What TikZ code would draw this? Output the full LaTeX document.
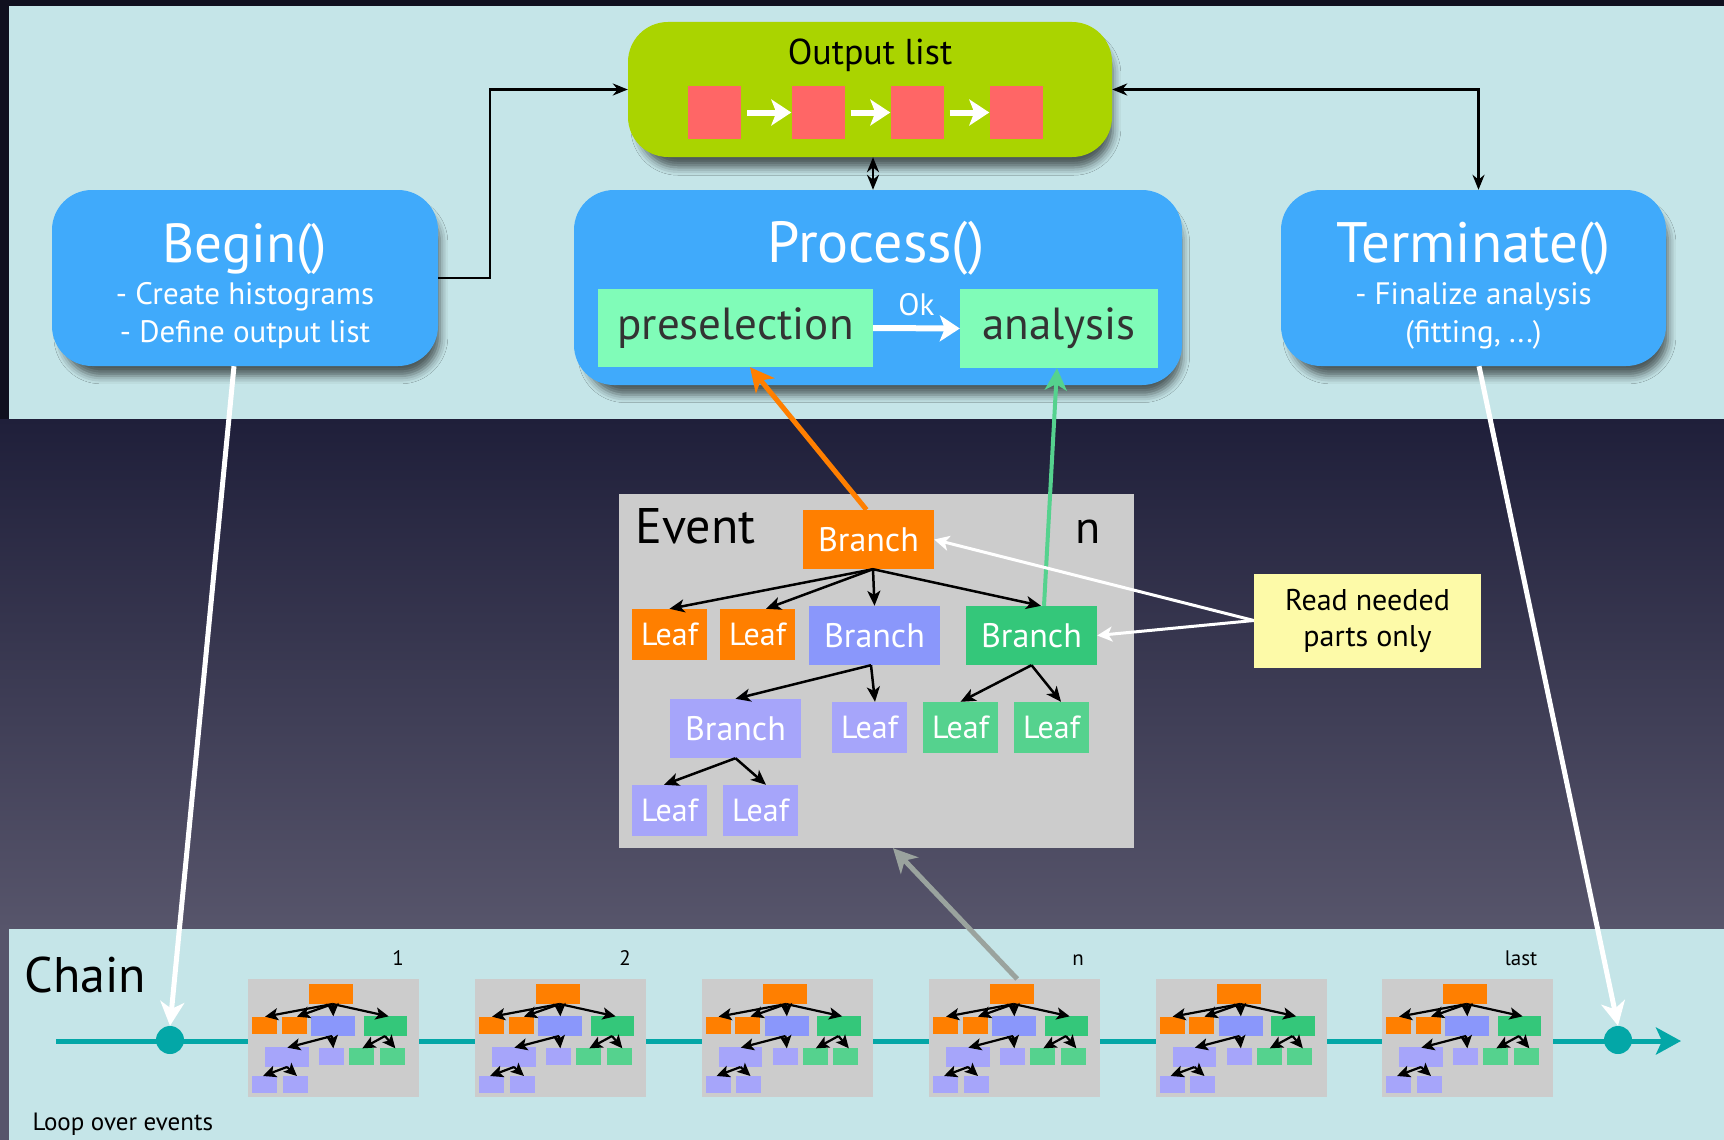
\documentclass[tikz,border=0pt]{standalone}
\usepackage{fontspec}
\setmainfont{PT Sans}
\usetikzlibrary{arrows.meta,shadows.blur}
\newcommand\fsz[1]{\fontsize{#1}{#1}\selectfont}

\definecolor{panel}{HTML}{C5E5E8}
\definecolor{bgdeep}{HTML}{10101F}
\definecolor{bgtop}{HTML}{1F1F3A}
\definecolor{bgbot}{HTML}{57556B}
\definecolor{boxblue}{HTML}{40AAFB}
\definecolor{listgreen}{HTML}{AAD400}
\definecolor{itemred}{HTML}{FF6666}
\definecolor{mint}{HTML}{80FCB8}
\definecolor{evgray}{HTML}{CCCCCC}
\definecolor{brorange}{HTML}{FF7F00}
\definecolor{brblue}{HTML}{8A97FB}
\definecolor{brpurple}{HTML}{A6A5FA}
\definecolor{brgreen}{HTML}{34C77A}
\definecolor{lfgreen}{HTML}{55D28E}
\definecolor{notefill}{HTML}{FDFAA8}
\definecolor{chainteal}{HTML}{03A7A7}
\definecolor{linkgray}{HTML}{9AA39E}

\begin{document}
\begin{tikzpicture}[x=1pt,y=-1pt,
  boxshadow/.style={blur shadow={shadow xshift=6pt, shadow yshift=-12pt, shadow blur radius=8pt, shadow opacity=60, shadow scale=0.98}},
  func/.style={rectangle, rounded corners=40pt, fill=boxblue, inner sep=0pt, boxshadow},
  ftitle/.style={anchor=base, text=white, font=\fsz{55}},
  fline/.style={anchor=base, text=white, font=\fsz{31}},
  stage/.style={rectangle, fill=mint, inner sep=0pt, text=black!80, font=\fsz{45}},
  item/.style={rectangle, fill=itemred, minimum size=53pt, inner sep=0pt},
  link/.style={line width=2.5pt, -{Stealth[length=15pt,width=12pt]}},
  dlink/.style={line width=2.5pt, {Stealth[length=15pt,width=12pt]}-{Stealth[length=15pt,width=12pt]}},
  itemarrow/.style={white, line width=6pt, -{Stealth[length=20pt,width=26pt,inset=5pt]}, shorten <=6pt},
  br/.style={rectangle, inner sep=0pt, minimum width=131pt, minimum height=59pt, text=white, font=\fsz{34}},
  lf/.style={rectangle, inner sep=0pt, minimum width=75pt, minimum height=51pt, text=white, font=\fsz{32}},
  treelink/.style={line width=2.5pt, -{Stealth[length=15pt,width=13pt,inset=4pt]}},
  minilink/.style={line width=2.2pt, -{Stealth[length=13pt,width=12pt,inset=3pt]}},
  bigarrow/.style={line width=5pt, -{Stealth[length=24pt,width=24pt,inset=7pt]}},
  evbox/.style={rectangle, fill=evgray, inner sep=0pt},
  chainlabel/.style={anchor=base, font=\fsz{21}, text=black},
  pics/minitree/.style={code={
    \fill[brorange] (184,16) rectangle (315,75);
    \fill[brorange] (13,115) rectangle (88,166);
    \fill[brorange] (101,115) rectangle (176,166);
    \fill[brblue] (190,112) rectangle (321,171);
    \fill[brgreen] (347,112) rectangle (478,171);
    \fill[brpurple] (51,205) rectangle (182,264);
    \fill[brpurple] (213,208) rectangle (288,259);
    \fill[lfgreen] (304,208) rectangle (379,259);
    \fill[lfgreen] (395,208) rectangle (470,259);
    \fill[brpurple] (13,291) rectangle (88,342);
    \fill[brpurple] (104,291) rectangle (179,342);
    \draw[minilink] (254,75) -- (51,113);
    \draw[minilink] (254,75) -- (147,113);
    \draw[minilink] (254,75) -- (256,112);
    \draw[minilink] (254,75) -- (422,112);
    \draw[minilink] (252,171) -- (118,206);
    \draw[minilink] (252,171) -- (256,208);
    \draw[minilink] (411,171) -- (343,208);
    \draw[minilink] (411,171) -- (442,208);
    \draw[minilink] (117,264) -- (45,291);
    \draw[minilink] (117,264) -- (147,291);
  }}
]
\useasboundingbox (0,0) rectangle (1724,1140);

% backdrop and the two light panels
\fill[bgdeep] (0,0) rectangle (1724,419);
\shade[top color=bgtop, bottom color=bgbot] (0,419) rectangle (1724,929);
\fill[bgbot] (0,929) rectangle (1724,1140);
\fill[panel] (9,6) rectangle (1724,419);
\fill[panel] (9,929) rectangle (1724,1140);

% output list
\node[rectangle, rounded corners=40pt, fill=listgreen, inner sep=0pt,
  minimum width=484pt, minimum height=135pt, boxshadow] (out) at (870,89.5) {};
\node[anchor=base, font=\fsz{36}] (outtitle) at (870,65) {Output list};
\node[item] (item1) at (714.5,112.5) {};
\node[item] (item2) at (818,112.5) {};
\node[item] (item3) at (917,112.5) {};
\node[item] (item4) at (1016,112.5) {};
\draw[itemarrow] (item1.east) -- (item2.west);
\draw[itemarrow] (item2.east) -- (item3.west);
\draw[itemarrow] (item3.east) -- (item4.west);

% Begin()
\node[func, minimum width=386pt, minimum height=176pt] (begin) at (245,278) {};
\node[ftitle] (begintitle) at (245,262) {Begin()};
\node[fline] (beginl1) at (245,304) {- Create histograms};
\node[fline] (beginl2) at (245,342) {- Define output list};

% Process()
\node[func, minimum width=608pt, minimum height=195pt] (proc) at (878,287.5) {};
\node[ftitle, font=\fsz{58}] (proctitle) at (876,262) {Process()};
\node[stage, minimum width=275pt, minimum height=78pt] (pre) at (735.5,328) {preselection};
\node[stage, minimum width=198pt, minimum height=79pt] (ana) at (1059,328.5) {analysis};
\draw[white, line width=6pt, -{Stealth[length=20pt,width=26pt,inset=5pt]}] (pre.east) -- (ana.west)
  node[midway, above=6pt, text=white, font=\fsz{31}] (oklabel) {Ok};

% Terminate()
\node[func, minimum width=385pt, minimum height=176pt] (term) at (1473.5,278) {};
\node[ftitle, font=\fsz{57}] (termtitle) at (1473.5,262) {Terminate()};
\node[fline] (terml1) at (1473.5,304) {- Finalize analysis};
\node[fline] (terml2) at (1473.5,342) {(fitting, ...)};

% links to the output list
\draw[link] (begin.east) -- ++(52,0) |- (out.west);
\draw[dlink] (out.east) -| ([xshift=5pt]term.north);
\draw[dlink] ([xshift=3pt]out.south) -- ([xshift=-5pt]proc.north);

% event n, read branch by branch
\node[evbox, minimum width=515pt, minimum height=354pt] (event) at (876.5,671) {};
\node[anchor=base west, font=\fsz{50}] (eventtitle) at (632,543) {Event};
\node[anchor=base, font=\fsz{46}] (eventnum) at (1088,543) {n};

\node[br, fill=brorange] (b0) at (868.5,539.5) {Branch};
\node[lf, fill=brorange] (l1) at (669.5,634.5) {Leaf};
\node[lf, fill=brorange] (l2) at (757.5,634.5) {Leaf};
\node[br, fill=brblue] (b1) at (874.5,635.5) {Branch};
\node[br, fill=brgreen] (b2) at (1031.5,635.5) {Branch};
\node[br, fill=brpurple] (b3) at (735.5,728.5) {Branch};
\node[lf, fill=brpurple] (l3) at (869.5,727.5) {Leaf};
\node[lf, fill=lfgreen] (l4) at (960.5,727.5) {Leaf};
\node[lf, fill=lfgreen] (l5) at (1051.5,727.5) {Leaf};
\node[lf, fill=brpurple] (l6) at (669.5,810.5) {Leaf};
\node[lf, fill=brpurple] (l7) at (760.5,810.5) {Leaf};

\draw[treelink] ([xshift=4.5pt]b0.south) -- (l1.north);
\draw[treelink] ([xshift=4.5pt]b0.south) -- ([xshift=8.5pt]l2.north);
\draw[treelink] ([xshift=4.5pt]b0.south) -- (b1.north);
\draw[treelink] ([xshift=4.5pt]b0.south) -- ([xshift=9.5pt]b2.north);
\draw[treelink] ([xshift=-3.5pt]b1.south) -- (b3.north);
\draw[treelink] ([xshift=-3.5pt]b1.south) -- ([xshift=5.5pt]l3.north);
\draw[treelink] (b2.south) -- (l4.north);
\draw[treelink] (b2.south) -- ([xshift=9.5pt]l5.north);
\draw[treelink] (b3.south) -- ([xshift=-5.5pt]l6.north);
\draw[treelink] (b3.south) -- ([xshift=5.5pt]l7.north);

% branches used by the two stages
\draw[brorange, bigarrow] ([xshift=-2pt]b0.north) -- ([xshift=14.5pt]pre.south);
\draw[lfgreen, line width=4pt, -{Stealth[length=22pt,width=22pt,inset=6pt]}] ([xshift=12.5pt]b2.north) -- ([xshift=-2pt]ana.south);

% note
\node[rectangle, fill=notefill, inner sep=0pt, minimum width=227pt, minimum height=94pt,
  align=center, font=\fontsize{30}{36}\selectfont] (note) at (1367.5,620.5) {Read needed\\parts only};
\draw[white, line width=3pt, -{Stealth[length=15pt,width=15pt,inset=4pt]}] (note.west) -- (b0.east);
\draw[white, line width=3pt, -{Stealth[length=15pt,width=15pt,inset=4pt]}] (note.west) -- (b2.east);

% the chain of events
\node[anchor=base west, font=\fsz{50}] (chaintitle) at (21,992) {Chain};
\node[anchor=base west, font=\fsz{25}] (looptext) at (29,1130) {Loop over events};
\coordinate (chainstart) at (56,1041);
\coordinate (chainend) at (1681,1041);
\draw[chainteal, line width=5pt, -{Stealth[length=25pt,width=27pt,inset=6pt]}] (chainstart) -- (chainend);

\foreach \i/\x in {1/248,2/475,3/701.5,4/929,5/1155.5,6/1382}{
  \node[evbox, anchor=north west, minimum width=171pt, minimum height=118pt] (c\i) at (\x,979) {};
  \pic[scale=1/3] at (\x,979) {minitree};
}
\node[chainlabel] (lab1) at (398,965) {1};
\node[chainlabel] (lab2) at (625,965) {2};
\node[chainlabel] (labn) at (1078,965) {n};
\node[chainlabel] (lablast) at (1521,965) {last};

\node[circle, fill=chainteal, minimum size=28pt, inner sep=0pt] (dot1) at (170,1040) {};
\node[circle, fill=chainteal, minimum size=28pt, inner sep=0pt] (dot2) at (1618,1040) {};

\draw[white, bigarrow] ([xshift=-11pt]begin.south) -- (dot1.north);
\draw[white, bigarrow] ([xshift=5.5pt]term.south) -- (dot2.north);
\draw[linkgray, bigarrow] ([xshift=2.5pt]c4.north) -- ([xshift=16.5pt]event.south);
\end{tikzpicture}
\end{document}
